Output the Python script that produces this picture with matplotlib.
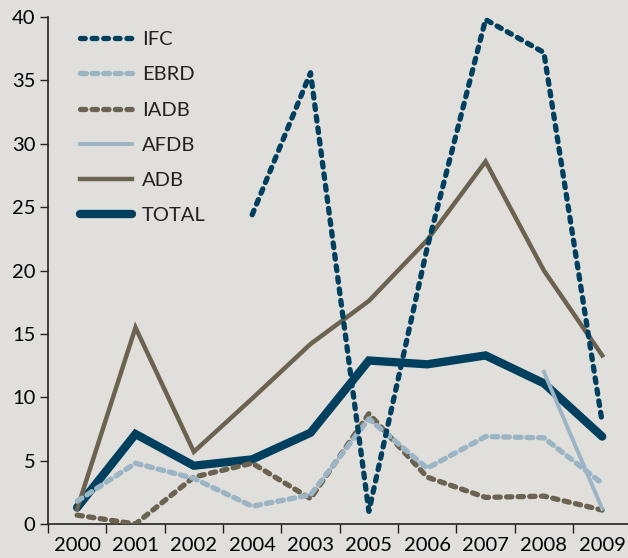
import numpy as np
import matplotlib.pyplot as plt

years = ['2000', '2001', '2002', '2004', '2003', '2005', '2006', '2007', '2008', '2009']
ifc = [np.nan, np.nan, np.nan, 24.4, 35.6, 1.0, 21.8, 39.8, 37.2, 8.0]
ebrd = [1.8, 4.8, 3.6, 1.4, 2.3, 8.3, 4.4, 6.9, 6.8, 3.2]
iadb = [0.7, 0.0, 3.7, 4.8, 2.0, 8.7, 3.7, 2.1, 2.2, 1.1]
afdb = [np.nan, np.nan, np.nan, np.nan, np.nan, np.nan, np.nan, np.nan, 12.0, 1.2]
adb = [1.2, 15.5, 5.7, 9.9, 14.2, 17.6, 22.4, 28.6, 20.0, 13.3]
total = [1.3, 7.1, 4.6, 5.1, 7.2, 12.9, 12.6, 13.3, 11.1, 6.9]

navy = '#003f5e'
sky = '#9bb5c5'
brown = '#6c6250'
bg = '#e0dfdb'

plt.rcParams['font.family'] = ['Lato', 'DejaVu Sans']

fig = plt.figure(figsize=(6.28, 5.58), dpi=100, facecolor=bg)
ax = fig.add_axes([0.0764, 0.0609, 0.929, 0.9086], facecolor=bg)
x = np.arange(len(years))

h_total, = ax.plot(x, total, color=navy, lw=6, solid_capstyle='round', solid_joinstyle='miter', zorder=2, label='TOTAL')
h_adb, = ax.plot(x, adb, color=brown, lw=3.2, solid_joinstyle='miter', zorder=3, label='ADB')
h_iadb, = ax.plot(x, iadb, color=brown, lw=3.8, dashes=(1.0, 1.2), dash_capstyle='round', zorder=4, label='IADB')
h_ebrd, = ax.plot(x, ebrd, color=sky, lw=3.8, dashes=(1.1, 1.1), dash_capstyle='round', zorder=5, label='EBRD')
h_afdb, = ax.plot(x, afdb, color=sky, lw=2.8, zorder=6, label='AFDB')
h_ifc, = ax.plot(x, ifc, color=navy, lw=3.8, dashes=(0.9, 1.3), dash_capstyle='round', zorder=7, label='IFC')

ax.set_xlim(-0.5, 9.5)
ax.set_ylim(0, 40)
ax.set_xticks(x)
ax.set_xticklabels(years)
ax.set_xticks(np.arange(-0.5, 10, 1), minor=True)
ax.tick_params(axis='x', which='major', length=0, pad=9, labelsize=14.5)
ax.tick_params(axis='x', which='minor', length=6.5, width=1, color='#222222')
ax.tick_params(axis='y', length=6, width=1, color='#222222', labelsize=14.5, pad=3)
ax.set_yticks(np.arange(0, 41, 5))
for s in ['top', 'right']:
    ax.spines[s].set_visible(False)
for s in ['left', 'bottom']:
    ax.spines[s].set_linewidth(1.2)
    ax.spines[s].set_color('#222222')

leg = ax.legend(handles=[h_ifc, h_ebrd, h_iadb, h_afdb, h_adb, h_total],
                loc='upper left', bbox_to_anchor=(0.03, 1.0), frameon=False,
                borderaxespad=0.3, fontsize=14.5, handlelength=2.6,
                handletextpad=0.5, labelspacing=0.9)
for t in leg.get_texts():
    t.set_color('#222222')

fig.savefig('out.png', dpi=100, facecolor=bg)
